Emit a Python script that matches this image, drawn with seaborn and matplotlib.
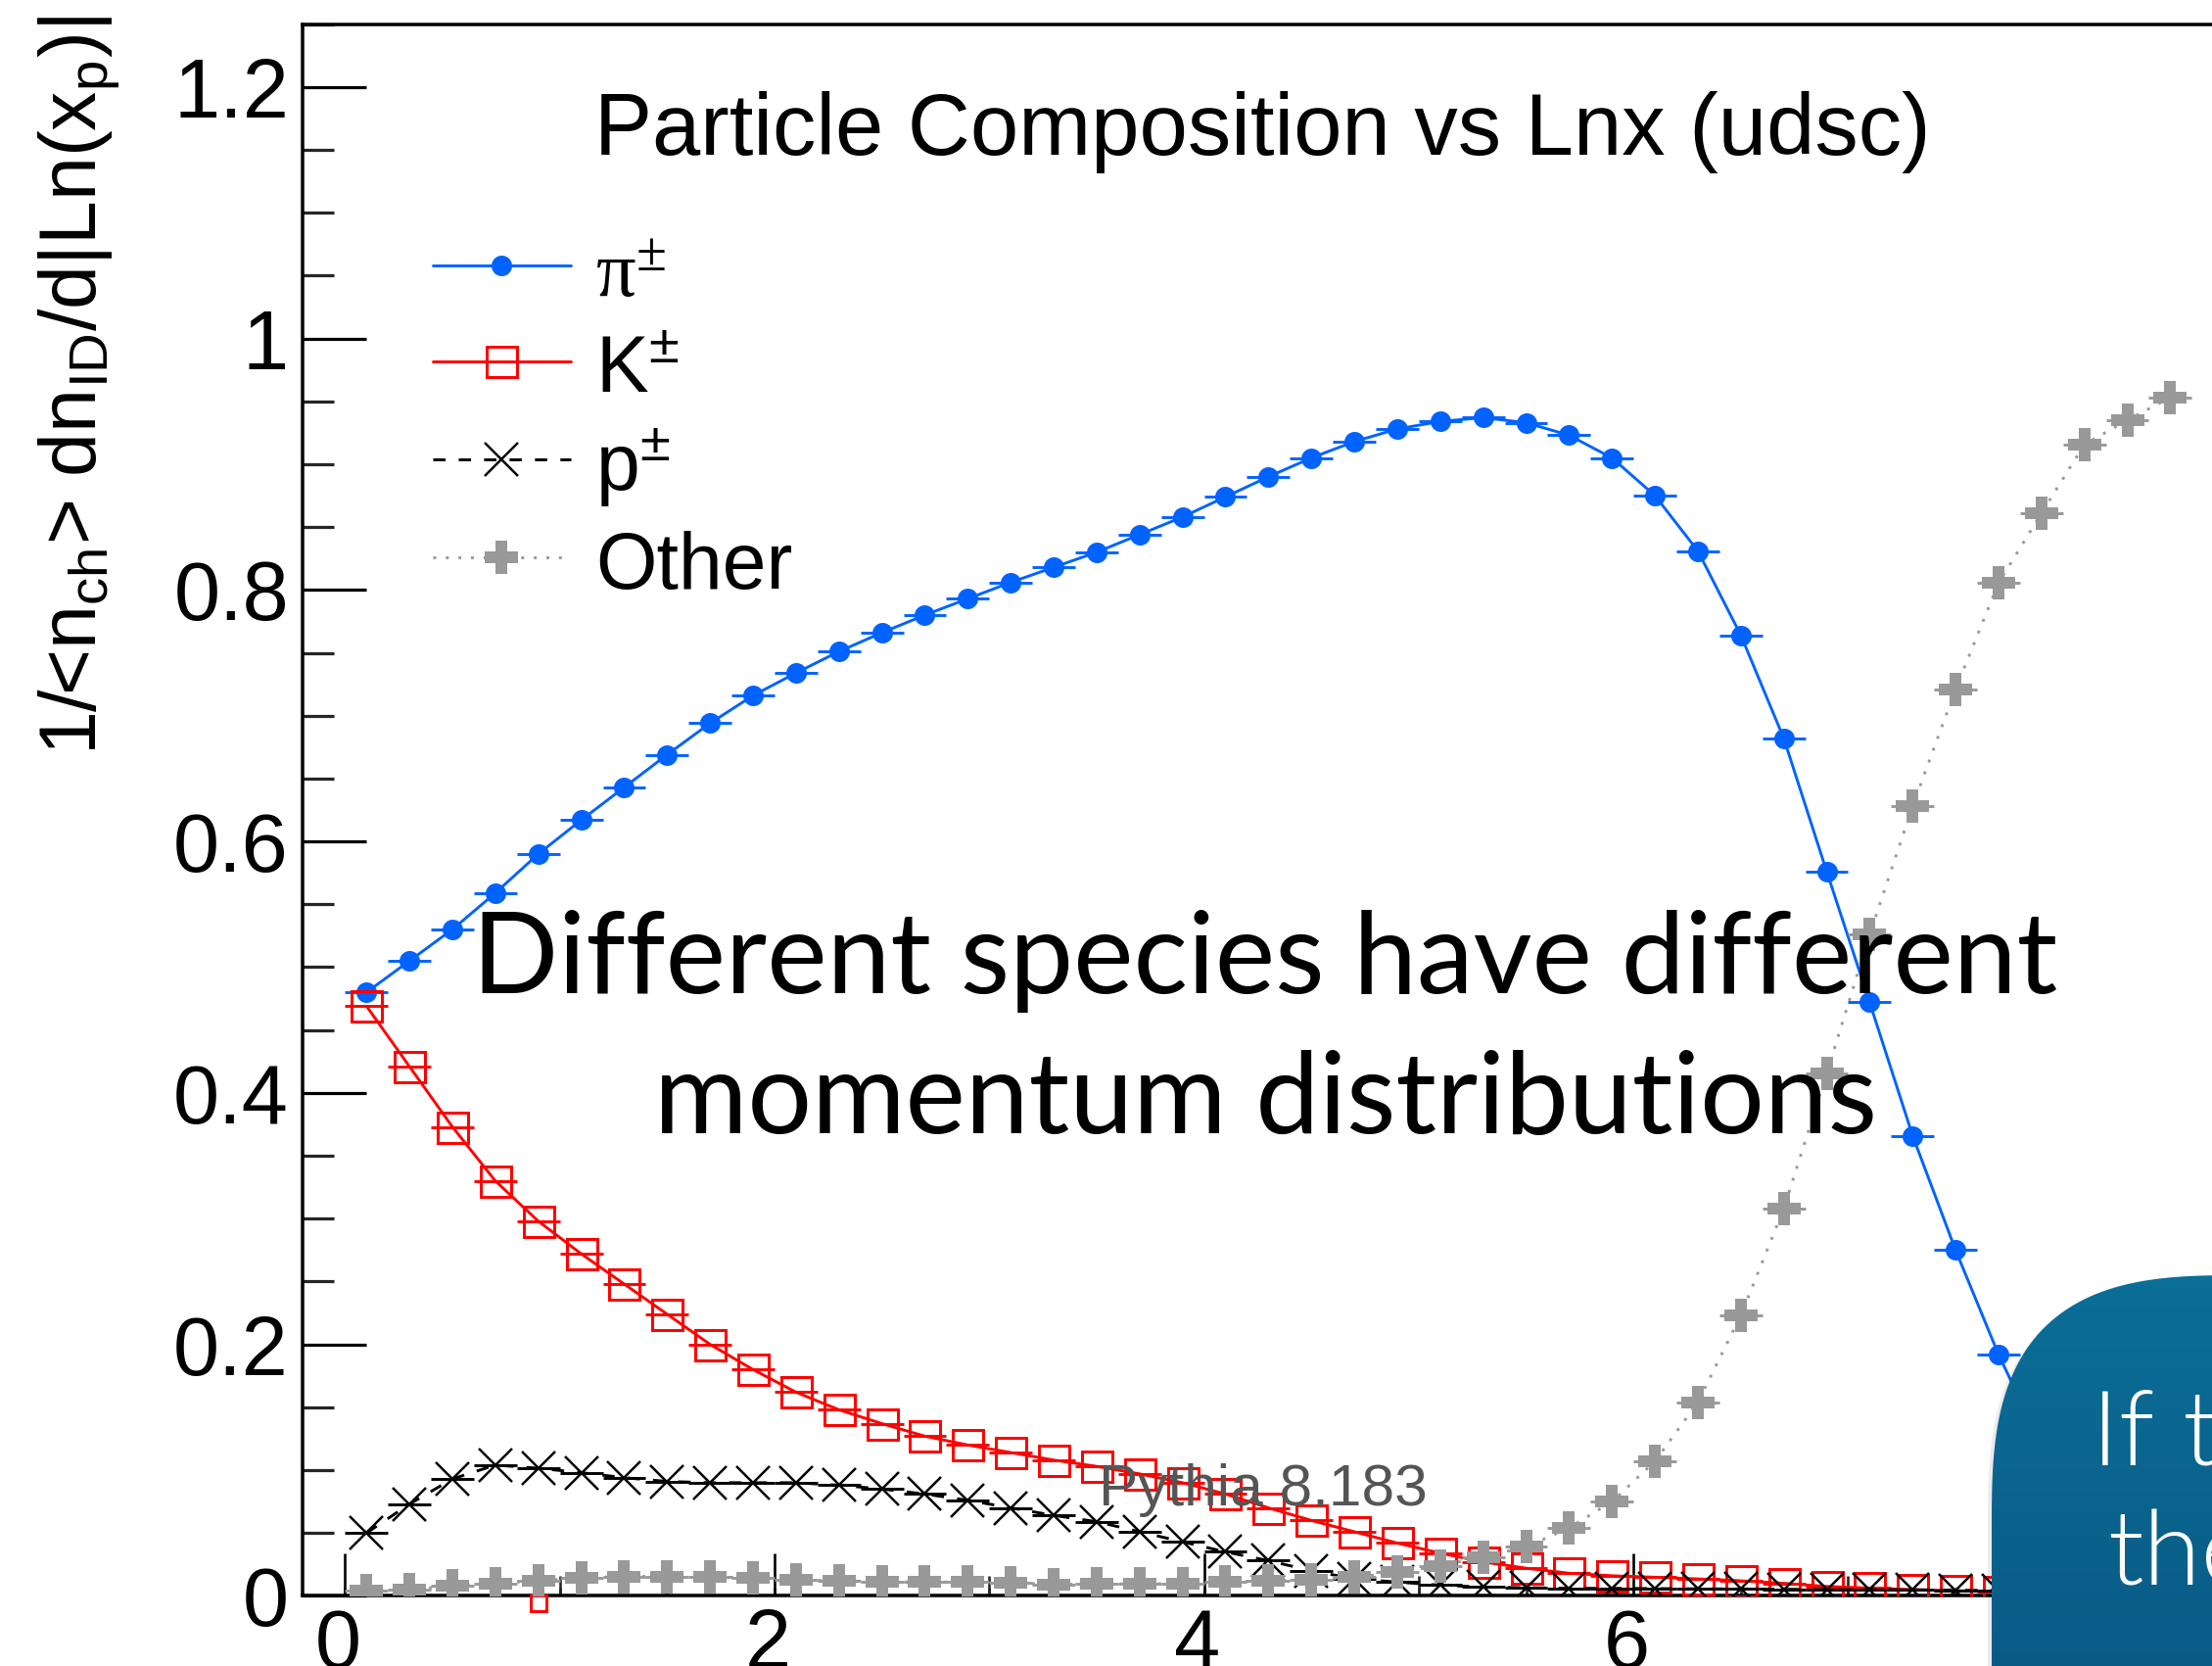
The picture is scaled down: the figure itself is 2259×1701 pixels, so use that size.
import numpy as np
import pandas as pd
import matplotlib
matplotlib.use("Agg")
import matplotlib.pyplot as plt
import matplotlib.transforms as mtransforms
import seaborn as sns
from matplotlib.path import Path
from matplotlib.patches import PathPatch
from matplotlib.colors import LinearSegmentedColormap
from matplotlib.ticker import FixedLocator, FixedFormatter, MultipleLocator

# ---------------- data ----------------
lnx_other = [0.1, 0.3, 0.5, 0.7, 0.9, 1.1, 1.3, 1.5, 1.7, 1.9, 2.1, 2.3, 2.5, 2.7, 2.9,
             3.1, 3.3, 3.5, 3.7, 3.9, 4.1, 4.3, 4.5, 4.7, 4.9, 5.1, 5.3, 5.5, 5.7, 5.9,
             6.1, 6.3, 6.5, 6.7, 6.9, 7.1, 7.3, 7.5, 7.7, 7.9, 8.1, 8.3, 8.5]
lnx_pi = lnx_other[:40]
lnx_k = lnx_other[:39]
lnx_p = lnx_other[:39]

pion = [0.480, 0.505, 0.530, 0.559, 0.590, 0.617, 0.643, 0.669, 0.694, 0.716,
        0.734, 0.751, 0.766, 0.780, 0.793, 0.806, 0.818, 0.830, 0.844, 0.858,
        0.874, 0.890, 0.905, 0.918, 0.928, 0.934, 0.937, 0.933, 0.923, 0.905,
        0.875, 0.831, 0.764, 0.682, 0.576, 0.472, 0.366, 0.275, 0.192, 0.120]
kaon = [0.469, 0.421, 0.373, 0.330, 0.298, 0.272, 0.248, 0.224, 0.200, 0.180,
        0.162, 0.148, 0.137, 0.127, 0.120, 0.114, 0.108, 0.103, 0.097, 0.090,
        0.081, 0.070, 0.060, 0.051, 0.042, 0.034, 0.027, 0.022, 0.018, 0.016,
        0.0148, 0.0135, 0.012, 0.010, 0.0075, 0.0062, 0.005, 0.0041, 0.0036]
proton = [0.050, 0.073, 0.093, 0.104, 0.1015, 0.098, 0.094, 0.091, 0.090, 0.090,
          0.090, 0.088, 0.085, 0.081, 0.076, 0.070, 0.064, 0.059, 0.051, 0.043,
          0.035, 0.028, 0.020, 0.0135, 0.011, 0.0085, 0.007, 0.0065, 0.006, 0.006,
          0.0058, 0.0056, 0.0055, 0.0053, 0.005, 0.005, 0.0048, 0.0045, 0.0043]
other = [0.004, 0.005, 0.008, 0.010, 0.012, 0.0143, 0.0155, 0.0155, 0.015, 0.0145,
         0.013, 0.012, 0.0115, 0.011, 0.011, 0.0105, 0.009, 0.0095, 0.0096, 0.0097,
         0.011, 0.012, 0.0127, 0.0148, 0.0187, 0.024, 0.031, 0.039, 0.054, 0.075,
         0.107, 0.154, 0.223, 0.308, 0.4155, 0.526, 0.628, 0.721, 0.8055, 0.861,
         0.9157, 0.935, 0.953]
kaon_stray_x = [0.9]
kaon_stray_y = [-0.006]
bin_half_width = 0.1

legend_labels = ["π$^{\\pm}$", "K$^{\\pm}$", "p$^{\\pm}$", "Other"]
title_text = "Particle Composition vs Lnx (udsc)"
ylabel_text = r"1/<n$_{\mathrm{ch}}$> dn$_{\mathrm{ID}}$/d|Ln(x$_{\mathrm{p}}$)|"
generator_text = "Pythia 8.183"
overlay_lines = ["Different species have different", "momentum distributions"]
box_lines = ["If tr", "the"]
y_major_ticks = [0, 0.2, 0.4, 0.6, 0.8, 1.0, 1.2]
y_tick_labels = ["0", "0.2", "0.4", "0.6", "0.8", "1", "1.2"]
x_major_ticks = [0, 2, 4, 6, 8]
x_tick_labels = ["0", "2", "4", "6", "8"]

# ---------------- style ----------------
sns.set_theme(style="ticks")
plt.rcParams["font.family"] = ["Liberation Sans", "DejaVu Sans"]
plt.rcParams["mathtext.fontset"] = "custom"
plt.rcParams["mathtext.rm"] = "Liberation Sans"
plt.rcParams["mathtext.it"] = "Liberation Sans:italic"
plt.rcParams["mathtext.bf"] = "Liberation Sans:bold"
plt.rcParams["mathtext.sf"] = "Liberation Sans"
plt.rcParams["mathtext.default"] = "regular"

W, H, DPI = 2259, 1701, 100
PX = 72.0 / DPI  # points per pixel
fig = plt.figure(figsize=(W / DPI, H / DPI), dpi=DPI, facecolor="white")

ax_left, ax_top, ax_bottom = 308.5, 24.6, 1629.4
x_lo, x_hi = -0.2, 9.0
px_per_unit = 219.3
ax = fig.add_axes([ax_left / W, (H - ax_bottom) / H,
                   (x_hi - x_lo) * px_per_unit / W, (ax_bottom - ax_top) / H])
ax.set_xlim(x_lo, x_hi)
ax.set_ylim(0, 1.25)
ax.set_facecolor("white")

BLUE, RED, GREY = "#0063ff", "#ff0000", "#999999"
LW = 2.1


def draw_series(x, y, color, marker, ms, mfc, mew, z):
    sns.lineplot(x=x, y=y, ax=ax, color=color, marker=marker, markersize=ms,
                 markerfacecolor=mfc, markeredgecolor=color, markeredgewidth=mew,
                 linewidth=LW, errorbar=None, sort=False, zorder=z)
    line = ax.lines[-1]
    ax.errorbar(x, y, xerr=bin_half_width, fmt="none", ecolor=color,
                elinewidth=LW, capsize=0, zorder=z - 0.1)
    return line


l_pi = draw_series(lnx_pi, pion, BLUE, "o", 21 * PX, BLUE, 0.0, 3)
l_k = draw_series(lnx_k, kaon, RED, "s", 31 * PX, "none", 3 * PX, 4)
l_p = draw_series(lnx_p, proton, "black", "x", 34 * PX, "black", 2.5 * PX, 5)
l_p.set_dashes([4.3, 4.6])
l_o = draw_series(lnx_other, other, GREY, "P", 34 * PX, GREY, 0.0, 6)
l_o.set_dashes([1.0, 3.4])
l_o.set_dash_capstyle("butt")
ax.plot(kaon_stray_x, kaon_stray_y, ls="none", marker="s", ms=16 * PX,
        mfc="none", mec=RED, mew=3 * PX, clip_on=False, zorder=4)

# axes / ticks (ROOT look)
for side in ["left", "bottom", "top", "right"]:
    ax.spines[side].set_visible(True)
    ax.spines[side].set_color("black")
    ax.spines[side].set_linewidth(3.5 * PX)
ax.yaxis.set_major_locator(FixedLocator(y_major_ticks))
ax.yaxis.set_major_formatter(FixedFormatter(y_tick_labels))
ax.yaxis.set_minor_locator(MultipleLocator(0.05))
ax.xaxis.set_major_locator(FixedLocator(x_major_ticks))
ax.xaxis.set_major_formatter(FixedFormatter(x_tick_labels))
ax.xaxis.set_minor_locator(MultipleLocator(1))
ax.tick_params(axis="y", which="major", direction="in", length=65 * PX, width=3.2 * PX,
               labelsize=61, pad=13.5 * PX, left=True, right=False, colors="black")
ax.tick_params(axis="y", which="minor", direction="in", length=32 * PX, width=3.2 * PX,
               left=True, right=False)
ax.tick_params(axis="x", which="major", direction="in", length=43 * PX, width=2.6 * PX,
               labelsize=61, pad=12 * PX, bottom=True, top=False, colors="black")
ax.tick_params(axis="x", which="minor", direction="in", length=20 * PX, width=2.6 * PX,
               bottom=True, top=False)
shift_left = mtransforms.ScaledTranslation(-7 / DPI, 0, fig.dpi_scale_trans)
for t in ax.get_xticklabels():
    t.set_color("black")
    t.set_transform(t.get_transform() + shift_left)
for t in ax.get_yticklabels():
    t.set_color("black")
sec = ax.secondary_xaxis("bottom")
sec.xaxis.set_major_locator(MultipleLocator(0.5))
sec.tick_params(axis="x", direction="in", length=8 * PX, width=2.6 * PX,
                labelbottom=False, bottom=True)
for s in sec.spines.values():
    s.set_visible(False)

# legend
leg = ax.legend(handles=[l_pi, l_k, l_p, l_o], labels=legend_labels,
                loc="upper left", bbox_to_anchor=(442 / W, 1 - 239 / H),
                bbox_transform=fig.transFigure, frameon=False, fontsize=58,
                handlelength=1.75, handletextpad=0.31, labelspacing=0.214,
                handleheight=1.0, borderpad=0, borderaxespad=0, numpoints=1)
leg.get_texts()[0].set_fontfamily(["Liberation Serif", "DejaVu Serif"])
for t in leg.get_texts():
    t.set_color("black")

# texts of the ROOT canvas
fig.text(607 / W, 1 - 158 / H, title_text, fontsize=63.8, ha="left", va="baseline",
         color="black")
fig.text(1122 / W, 1 - 1537 / H, generator_text, fontsize=43.5, ha="left",
         va="baseline", color="#555555", zorder=8)
fig.text(99.5 / W, 1 - 16 / H, ylabel_text, fontsize=58, rotation=90,
         rotation_mode="anchor", ha="right", va="baseline", color="black")

# ---------------- slide overlay ----------------
ov = fig.add_axes([0, 0, 1, 1], zorder=10)
ov.set_xlim(0, W)
ov.set_ylim(H, 0)
ov.axis("off")
ov.patch.set_visible(False)

t1 = ov.text(1292, 1014, overlay_lines[0], fontsize=85, family=["Lato", "DejaVu Sans"],
             ha="center", va="baseline", color="black")
t2 = ov.text(1292, 1157, overlay_lines[1], fontsize=85, family=["Lato", "DejaVu Sans"],
             ha="center", va="baseline", color="black")
fig.canvas.draw()
rend = fig.canvas.get_renderer()
scale = 1619.0 / t1.get_window_extent(rend).width
t1.set_fontsize(85 * scale)
t2.set_fontsize(85 * scale)

# rounded (superellipse) callout box
bx_left, bx_top, rad, n_exp = 2034, 1302, 260, 3.0
cx, cy = bx_left + rad, bx_top + rad
tt = np.linspace(0, np.pi / 2, 80)
arc_x = cx - rad * np.cos(tt) ** (2 / n_exp)
arc_y = cy - rad * np.sin(tt) ** (2 / n_exp)
verts = [(bx_left, H + 30)] + list(zip(arc_x, arc_y)) + \
        [(W + 30, bx_top), (W + 30, H + 30), (bx_left, H + 30)]
codes = [Path.MOVETO] + [Path.LINETO] * (len(verts) - 2) + [Path.CLOSEPOLY]
box_path = Path(verts, codes)
shadow = PathPatch(box_path.transformed(mtransforms.Affine2D().translate(-4, 3)),
                   facecolor="#000000", alpha=0.08, edgecolor="none", zorder=1)
ov.add_patch(shadow)
box = PathPatch(box_path, facecolor="none", edgecolor="none", zorder=2)
ov.add_patch(box)
cmap = LinearSegmentedColormap.from_list("box", ["#0b6f98", "#095a85"])
grad = np.linspace(0, 1, 256).reshape(-1, 1)
im = ov.imshow(grad, cmap=cmap, extent=(bx_left - 10, W + 30, H + 30, bx_top - 10),
               aspect="auto", origin="upper", zorder=2)
im.set_clip_path(box)
ov.set_xlim(0, W)
ov.set_ylim(H, 0)
ov.text(2136, 1495, box_lines[0], fontsize=77, family=["Lato", "DejaVu Sans"],
        fontweight=300, ha="left", va="baseline", color="white", zorder=3)
ov.text(2152, 1618, box_lines[1], fontsize=77, family=["Lato", "DejaVu Sans"],
        fontweight=300, ha="left", va="baseline", color="white", zorder=3)

fig.savefig("out.png", dpi=DPI, facecolor="white")
